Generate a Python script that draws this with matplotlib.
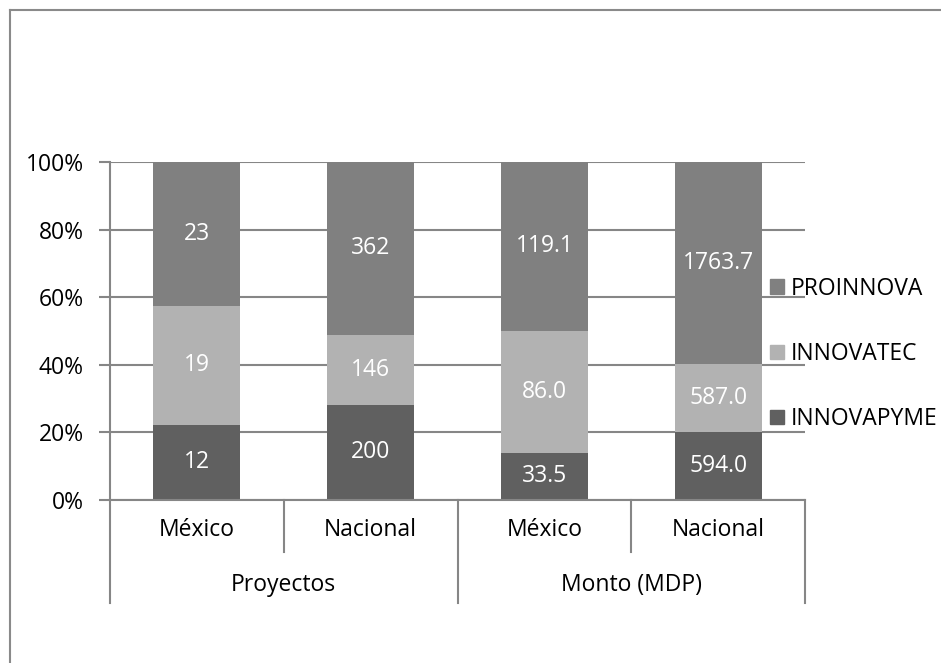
import matplotlib
matplotlib.use("Agg")
import matplotlib.pyplot as plt
from matplotlib.patches import Patch
from matplotlib.lines import Line2D

plt.rcParams['font.family'] = ['Open Sans', 'DejaVu Sans']

groups = ["Proyectos", "Monto (MDP)"]
subcats = ["México", "Nacional", "México", "Nacional"]
series = ["INNOVAPYME", "INNOVATEC", "PROINNOVA"]
innovapyme = [12, 200, 33.5, 594.0]
innovatec = [19, 146, 86.0, 587.0]
proinnova = [23, 362, 119.1, 1763.7]
label_fmt = ["{:.0f}", "{:.0f}", "{:.1f}", "{:.1f}"]
colors = {"INNOVAPYME": "#606060", "INNOVATEC": "#b2b2b2", "PROINNOVA": "#808080"}
yticks = [0, 20, 40, 60, 80, 100]

W, H = 941, 663
fig = plt.figure(figsize=(W / 100, H / 100), dpi=100)
ax = fig.add_axes([110 / W, 1 - 500 / H, 695 / W, 338 / H])

grid_c = "#868686"
FS = 16.5
values = [innovapyme, innovatec, proinnova]
x = list(range(len(subcats)))
totals = [sum(v[i] for v in values) for i in x]
bottoms = [0.0] * len(x)
for name, vals in zip(series, values):
    pct = [vals[i] / totals[i] * 100 for i in x]
    ax.bar(x, pct, width=0.5, bottom=bottoms, color=colors[name], zorder=2, linewidth=0)
    for i in x:
        ax.text(i, bottoms[i] + pct[i] / 2, label_fmt[i].format(vals[i]), ha="center", va="center",
                color="white", fontsize=FS, zorder=3)
    bottoms = [bottoms[i] + pct[i] for i in x]

ax.set_xlim(-0.5, 3.5)
ax.set_ylim(0, 100)
ax.set_yticks(yticks)
ax.set_yticklabels([f"{t}%" for t in yticks], fontsize=FS)
ax.yaxis.grid(True, color=grid_c, linewidth=1.5, zorder=1)
ax.tick_params(axis="y", length=8, width=1.5, color=grid_c, pad=11)
ax.set_xticks([])
for s in ["top", "right", "bottom"]:
    ax.spines[s].set_visible(False)
ax.spines["left"].set_color(grid_c)
ax.spines["left"].set_linewidth(1.5)

# multi-level category axis
trans = ax.get_xaxis_transform()
ax_h = 338.0
def yfrac(py):
    return -(py - 500) / ax_h
ax.add_line(Line2D([-0.5, 3.5], [0, 0], transform=trans, color=grid_c, lw=1.5, clip_on=False, zorder=4))
for xs, bot in [(-0.5, 603), (0.5, 552), (1.5, 603), (2.5, 552), (3.5, 603)]:
    ax.add_line(Line2D([xs, xs], [0, yfrac(bot)], transform=trans, color=grid_c, lw=1.5, clip_on=False))
for i, lab in enumerate(subcats):
    ax.text(i, yfrac(530), lab, transform=trans, ha="center", va="center", fontsize=FS)
for g, lab in enumerate(groups):
    ax.text(2 * g + 0.5, yfrac(585), lab, transform=trans, ha="center", va="center", fontsize=FS)

handles = [Patch(color=colors[n], label=n) for n in reversed(series)]
fig.legend(handles=handles, loc="center left", bbox_to_anchor=(770 / W, 1 - 354 / H),
           frameon=False, fontsize=FS, handlelength=0.6, handleheight=0.6,
           handletextpad=0.3, labelspacing=1.8, borderaxespad=0, borderpad=0)

# outer chart frame
fig.add_artist(Line2D([10 / W, 10 / W], [0, 1 - 10 / H], transform=fig.transFigure, color="#8a8a8a", lw=1.5))
fig.add_artist(Line2D([10 / W, 1], [1 - 10 / H, 1 - 10 / H], transform=fig.transFigure, color="#8a8a8a", lw=1.5))

fig.savefig("out.png", dpi=100)
